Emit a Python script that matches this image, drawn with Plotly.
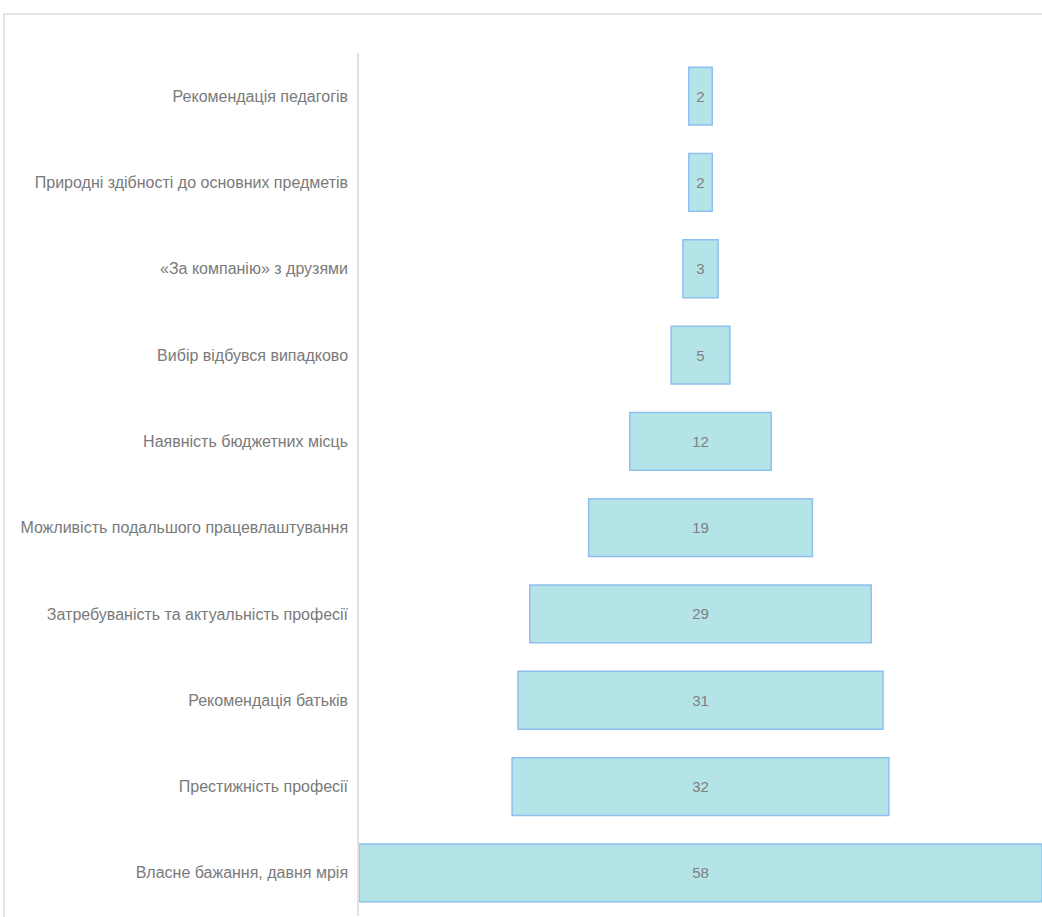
import plotly.graph_objects as go

categories = [
    "Рекомендація педагогів",
    "Природні здібності до основних предметів",
    "«За компанію» з друзями",
    "Вибір відбувся випадково",
    "Наявність бюджетних місць",
    "Можливість подальшого працевлаштування",
    "Затребуваність та актуальність професії",
    "Рекомендація батьків",
    "Престижність професії",
    "Власне бажання, давня мрія",
]
values = [2, 2, 3, 5, 12, 19, 29, 31, 32, 58]

W, H = 1042, 917
L, T, B, R = 359, 53, 1, 0

fig = go.Figure(go.Funnel(
    y=categories,
    x=values,
    text=[str(v) for v in values],
    textinfo="text",
    textposition="inside",
    constraintext="none",
    insidetextanchor="middle",
    textfont=dict(color="#808080", size=15, family="Liberation Sans, Arial"),
    insidetextfont=dict(color="#808080", size=15, family="Liberation Sans, Arial"),
    marker=dict(color="#b4e3e8", line=dict(color="#8fc0f0", width=1.5)),
    connector=dict(visible=False),
    hoverinfo="y+x",
))

mx = max(values)
fig.update_layout(
    width=W, height=H,
    margin=dict(l=L, r=R, t=T, b=B),
    paper_bgcolor="white",
    plot_bgcolor="white",
    showlegend=False,
    funnelgap=0.33,
    uniformtext=dict(minsize=15, mode="show"),
    font=dict(family="Liberation Sans, Arial", size=16, color="#7a7a7a"),
    xaxis=dict(visible=False, range=[-mx / 2, mx / 2]),
    yaxis=dict(showline=True, linecolor="#e2e2e2", linewidth=1.5,
               ticks="", ticklabelstandoff=6,
               tickfont=dict(size=16, color="#7a7a7a")),
)

pw = W - L - R
ph = H - T - B
fig.add_shape(type="rect", xref="paper", yref="paper",
              x0=(4 - L) / pw, x1=(W + 20 - L) / pw,
              y0=-(20 + B) / ph, y1=(H - B - 14) / ph,
              line=dict(color="#dcdcdc", width=1.5), fillcolor="rgba(0,0,0,0)",
              layer="below")

fig.write_html("out.html",
               config={"displayModeBar": False},
               post_script="document.body.style.margin='0';document.body.style.padding='0';document.body.style.overflow='hidden';")
